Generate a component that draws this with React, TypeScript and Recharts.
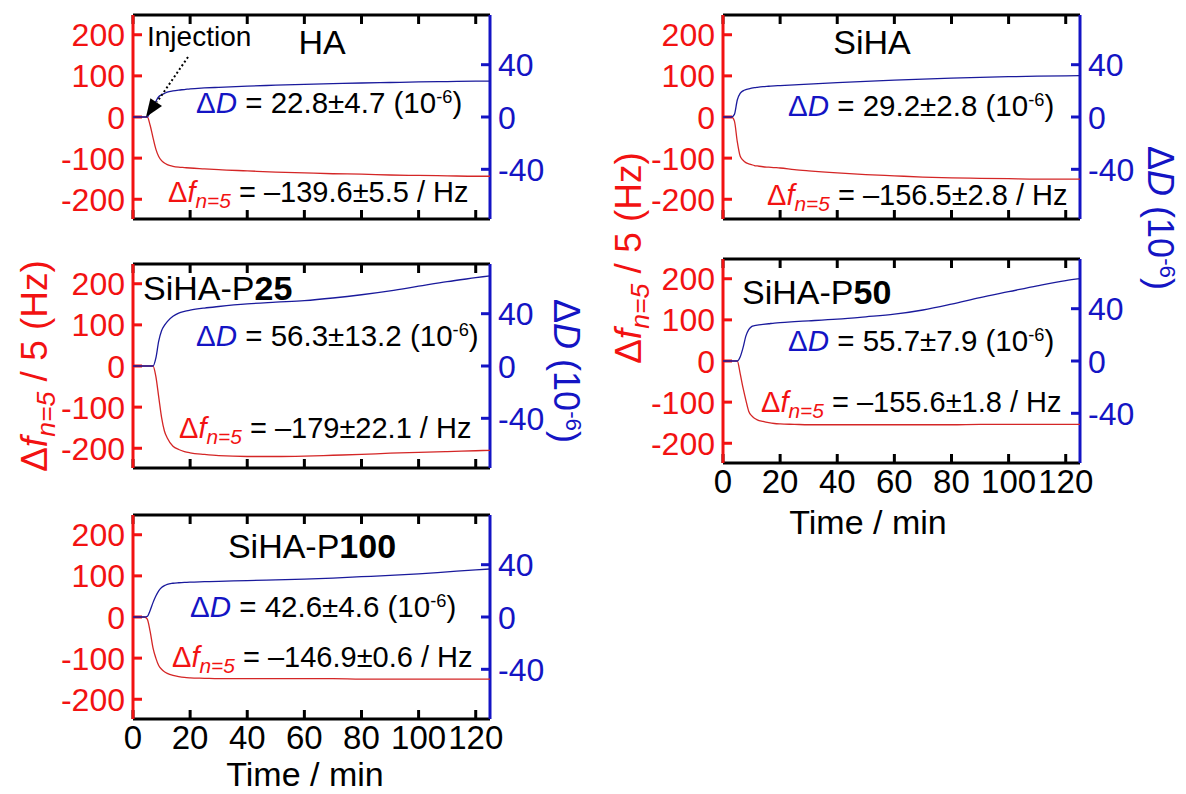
import React from 'react';
import { LineChart, Line, XAxis, YAxis, ReferenceLine } from 'recharts';

// QCM-D traces: frequency shift (left axis) and dissipation (right axis) vs time
const times = [0, 3, 4, 5, 6, 7, 8, 9, 10, 11, 12, 14, 16, 18, 20, 25, 30, 40, 50, 60, 70, 80, 90, 100, 110, 120, 125];

const haFreq = [0, 0, 0, 0, -20, -50, -78, -96, -106, -112, -116, -120, -122, -123, -124, -126, -128, -131, -134, -136, -138, -139, -141, -142, -143, -144, -144];
const haDiss = [0, 0, 0, 0, 4, 8, 12, 15.5, 17, 18, 19, 20, 20.6, 21, 21.5, 22.2, 22.7, 23.6, 24.3, 25, 25.5, 26, 26.4, 26.8, 27.1, 27.4, 27.5];

const sihaFreq = [0, 0, -10, -60, -95, -105, -111, -114, -116, -118, -119, -121, -122, -123, -124, -128, -131, -136, -140, -143, -146, -148, -149, -150, -151, -151, -151];
const sihaDiss = [0, 0, 2, 13, 18, 20, 21, 21.5, 22, 22.4, 22.7, 23.2, 23.5, 23.8, 24, 24.6, 25.2, 26.3, 27.3, 28.2, 29, 29.7, 30.3, 30.8, 31.2, 31.5, 31.6];

const p25Freq = [0, 0, 0, 0, 0, 0, -25, -75, -125, -158, -175, -195, -203, -208, -211, -215, -218, -220, -220, -219, -217, -215, -212, -210, -208, -206, -205];
const p25Diss = [0, 0, 0, 0, 0, 0, 6, 19, 27, 31, 34, 38, 40.5, 41.8, 42.7, 44.3, 45.5, 47.5, 48.8, 50, 52, 54.5, 57.5, 61, 64.5, 67.5, 69];

const p50Freq = [0, 0, 0, 0, -30, -65, -95, -122, -133, -139, -143, -147, -150, -152, -153, -154, -155, -155, -155, -155, -155, -155, -154, -154, -154, -154, -154];
const p50Diss = [0, 0, 0, 0, 3, 10, 19, 24, 26.3, 27, 27.5, 28, 28.5, 29, 29.4, 30.1, 30.7, 32, 33.8, 35.8, 39, 43.5, 48.5, 53, 57.5, 61.5, 63];

const p100Freq = [0, 0, 0, -5, -35, -75, -100, -118, -127, -133, -137, -142, -145, -147, -148, -149, -150, -150, -150, -150, -150, -151, -151, -151, -151, -151, -151];
const p100Diss = [0, 0, 0, 0.5, 5, 11, 16, 20, 22.5, 24, 25, 25.8, 26.2, 26.5, 26.7, 27, 27.3, 27.8, 28.4, 29, 29.8, 30.8, 31.8, 33, 34.5, 36, 36.7];

// mean ± SD reported in each panel
const dMean = ['22.8', '29.2', '56.3', '55.7', '42.6'];
const dSd = ['4.7', '2.8', '13.2', '7.9', '4.6'];
const fMean = ['139.6', '156.5', '179', '155.6', '146.9'];
const fSd = ['5.5', '2.8', '22.1', '1.8', '0.6'];

const titlePlain = ['HA', 'SiHA', 'SiHA-P', 'SiHA-P', 'SiHA-P'];
const titleBold = ['', '', '25', '50', '100'];

const timeTicks = [0, 20, 40, 60, 80, 100, 120];
const freqTicks = [-200, -100, 0, 100, 200];
const dissTicks = [-40, 0, 40];
const timeDomain = [0, 125];
const freqDomain = [-248, 248];
const dissDomain = [-78, 78];

const RED = '#f21212';
const BLUE = '#1414c4';
const RED_LINE = '#d42626';
const BLUE_LINE = '#1a1a9c';
const FONT = '"Liberation Sans", Arial, sans-serif';

const PLOT_W = 357;
const PLOT_H = 204;
const AX_L = 90;
const AX_R = 80;
const AX_B = 44;
const PAD_T = 8;
const TICK = 9; // inward tick length, px
const GAP_Y = 8;
const GAP_X = 6;

// tick length converted to axis units so the marks go through the chart scales
const tickT = (TICK * (timeDomain[1] - timeDomain[0])) / PLOT_W;
const tickF = (TICK * (freqDomain[1] - freqDomain[0])) / PLOT_H;

type Side = 'left' | 'right' | 'bottom';

const makeLabel = (side: Side, color: string, size: number, show: boolean) => (props: any) => {
  const { x, y, payload } = props;
  if (!show) return <g />;
  const anchor = side === 'left' ? 'end' : side === 'right' ? 'start' : 'middle';
  const dy = side === 'bottom' ? '0.72em' : '0.36em';
  return (
    <text x={x} y={y} dy={dy} textAnchor={anchor} fill={color} fontSize={size} fontFamily={FONT}>
      {payload.value}
    </text>
  );
};

interface PanelProps {
  x: number;
  y: number;
  freq: number[];
  diss: number[];
  showTime: boolean;
}

function Panel({ x, y, freq, diss, showTime }: PanelProps) {
  const rows = times.map((t, i) => ({ t, f: freq[i], d: diss[i] }));
  const tickStyle = { strokeWidth: 3, ifOverflow: 'visible' as const };
  return (
    <div style={{ position: 'absolute', left: x - AX_L, top: y - PAD_T }}>
      <LineChart
        width={PLOT_W + AX_L + AX_R}
        height={PLOT_H + PAD_T + AX_B}
        data={rows}
        margin={{ top: PAD_T, right: 0, bottom: 0, left: 0 }}
      >
        <XAxis
          xAxisId="b"
          dataKey="t"
          type="number"
          domain={timeDomain}
          allowDataOverflow
          ticks={timeTicks}
          interval={0}
          height={AX_B}
          axisLine={false}
          tickLine={false}
          tickSize={0}
          tickMargin={GAP_X}
          tick={makeLabel('bottom', '#000', 33, showTime)}
        />
        <YAxis
          yAxisId="f"
          type="number"
          domain={freqDomain}
          allowDataOverflow
          ticks={freqTicks}
          interval={0}
          width={AX_L}
          axisLine={false}
          tickLine={false}
          tickSize={0}
          tickMargin={GAP_Y}
          tick={makeLabel('left', RED, 32, true)}
        />
        <YAxis
          yAxisId="d"
          orientation="right"
          type="number"
          domain={dissDomain}
          allowDataOverflow
          ticks={dissTicks}
          interval={0}
          width={AX_R}
          axisLine={false}
          tickLine={false}
          tickSize={0}
          tickMargin={GAP_Y}
          tick={makeLabel('right', BLUE, 32, true)}
        />

        {/* inward tick marks on all four sides */}
        {timeTicks.map((t) => (
          <ReferenceLine key={`tb${t}`} xAxisId="b" yAxisId="f" stroke="#000" {...tickStyle}
            segment={[{ x: t, y: freqDomain[0] }, { x: t, y: freqDomain[0] + tickF }]} />
        ))}
        {timeTicks.map((t) => (
          <ReferenceLine key={`tt${t}`} xAxisId="b" yAxisId="f" stroke="#000" {...tickStyle}
            segment={[{ x: t, y: freqDomain[1] }, { x: t, y: freqDomain[1] - tickF }]} />
        ))}
        {freqTicks.map((v) => (
          <ReferenceLine key={`tl${v}`} xAxisId="b" yAxisId="f" stroke={RED} {...tickStyle}
            segment={[{ x: timeDomain[0], y: v }, { x: timeDomain[0] + tickT, y: v }]} />
        ))}
        {dissTicks.map((v) => (
          <ReferenceLine key={`tr${v}`} xAxisId="b" yAxisId="d" stroke={BLUE} {...tickStyle}
            segment={[{ x: timeDomain[1] - tickT, y: v }, { x: timeDomain[1], y: v }]} />
        ))}

        {/* frame: black top/bottom, red left, blue right */}
        <ReferenceLine xAxisId="b" yAxisId="f" y={freqDomain[1]} stroke="#000" strokeWidth={3} />
        <ReferenceLine xAxisId="b" yAxisId="f" y={freqDomain[0]} stroke="#000" strokeWidth={3} />
        <ReferenceLine xAxisId="b" yAxisId="f" x={timeDomain[0]} stroke={RED} strokeWidth={3} />
        <ReferenceLine xAxisId="b" yAxisId="f" x={timeDomain[1]} stroke={BLUE} strokeWidth={3} />

        <Line xAxisId="b" yAxisId="f" dataKey="f" type="monotone" stroke={RED_LINE} strokeWidth={1.3} dot={false} isAnimationActive={false} />
        <Line xAxisId="b" yAxisId="d" dataKey="d" type="monotone" stroke={BLUE_LINE} strokeWidth={1.3} dot={false} isAnimationActive={false} />
      </LineChart>
    </div>
  );
}

const Sub = ({ children }: { children: React.ReactNode }) => (
  <span style={{ fontSize: '0.72em', verticalAlign: '-0.3em', fontStyle: 'italic' }}>{children}</span>
);
const Sup = ({ children }: { children: React.ReactNode }) => (
  <span style={{ fontSize: '0.62em', verticalAlign: '0.55em' }}>{children}</span>
);

const abs = (left: number, top: number, extra: React.CSSProperties = {}): React.CSSProperties => ({
  position: 'absolute',
  left,
  top,
  lineHeight: 1,
  whiteSpace: 'nowrap',
  fontFamily: FONT,
  ...extra,
});

function DissText({ i, left, top }: { i: number; left: number; top: number }) {
  return (
    <div style={abs(left, top, { fontSize: 29.5 })}>
      <span style={{ color: BLUE }}>Δ<i>D</i></span> = {dMean[i]}±{dSd[i]} (10<Sup>-6</Sup>)
    </div>
  );
}

function FreqText({ i, left, top }: { i: number; left: number; top: number }) {
  return (
    <div style={abs(left, top, { fontSize: 29 })}>
      <span style={{ color: RED }}>Δ<i>f</i><Sub>n=5</Sub></span> = –{fMean[i]}±{fSd[i]} / Hz
    </div>
  );
}

function Title({ i, left, top, center }: { i: number; left: number; top: number; center?: boolean }) {
  return (
    <div style={abs(left, top, { fontSize: 34, transform: center ? 'translateX(-50%)' : undefined })}>
      {titlePlain[i]}
      <b>{titleBold[i]}</b>
    </div>
  );
}

function FreqLabel({ cx, cy }: { cx: number; cy: number }) {
  return (
    <div style={abs(cx, cy, { fontSize: 37, color: RED, transform: 'translate(-50%, -50%) rotate(-90deg)' })}>
      Δ<i>f</i><Sub>n=5</Sub> / 5 (Hz)
    </div>
  );
}

function DissLabel({ cx, cy }: { cx: number; cy: number }) {
  return (
    <div style={abs(cx, cy, { fontSize: 36, color: BLUE, transform: 'translate(-50%, -50%) rotate(90deg)' })}>
      Δ<i>D</i> (10<Sup>-6</Sup>)
    </div>
  );
}

function TimeLabel({ cx, top }: { cx: number; top: number }) {
  return <div style={abs(cx, top, { fontSize: 34, transform: 'translateX(-50%)' })}>Time / min</div>;
}

export default function App() {
  return (
    <div style={{ position: 'absolute', left: 0, top: 0, width: 1186, height: 794, background: '#fff', overflow: 'hidden' }}>
      <Panel x={133} y={15} freq={haFreq} diss={haDiss} showTime={false} />
      <Panel x={723} y={15} freq={sihaFreq} diss={sihaDiss} showTime={false} />
      <Panel x={133} y={264} freq={p25Freq} diss={p25Diss} showTime={false} />
      <Panel x={723} y={259} freq={p50Freq} diss={p50Diss} showTime />
      <Panel x={133} y={515} freq={p100Freq} diss={p100Diss} showTime />

      <Title i={0} left={322} top={25} center />
      <Title i={1} left={872} top={25} center />
      <Title i={2} left={143} top={271} />
      <Title i={3} left={742} top={275} />
      <Title i={4} left={312} top={529} center />

      <DissText i={0} left={196} top={88} />
      <FreqText i={0} left={168} top={178} />
      <DissText i={1} left={788} top={91} />
      <FreqText i={1} left={767} top={181} />
      <DissText i={2} left={196} top={321} />
      <FreqText i={2} left={179} top={414} />
      <DissText i={3} left={788} top={326} />
      <FreqText i={3} left={761} top={388} />
      <DissText i={4} left={190} top={592} />
      <FreqText i={4} left={172} top={643} />

      <div style={abs(147, 23, { fontSize: 28 })}>Injection</div>
      <svg width={1186} height={794} style={{ position: 'absolute', left: 0, top: 0, pointerEvents: 'none' }}>
        <line x1={188} y1={57} x2={157} y2={102} stroke="#000" strokeWidth={2} strokeDasharray="2 2.5" />
        <polygon points="146,117 162,106 150.4,98.2" fill="#000" />
      </svg>

      <FreqLabel cx={38} cy={366} />
      <DissLabel cx={566} cy={371} />
      <FreqLabel cx={632} cy={258} />
      <DissLabel cx={1160} cy={218} />

      <TimeLabel cx={305} top={757} />
      <TimeLabel cx={868} top={505} />
    </div>
  );
}
